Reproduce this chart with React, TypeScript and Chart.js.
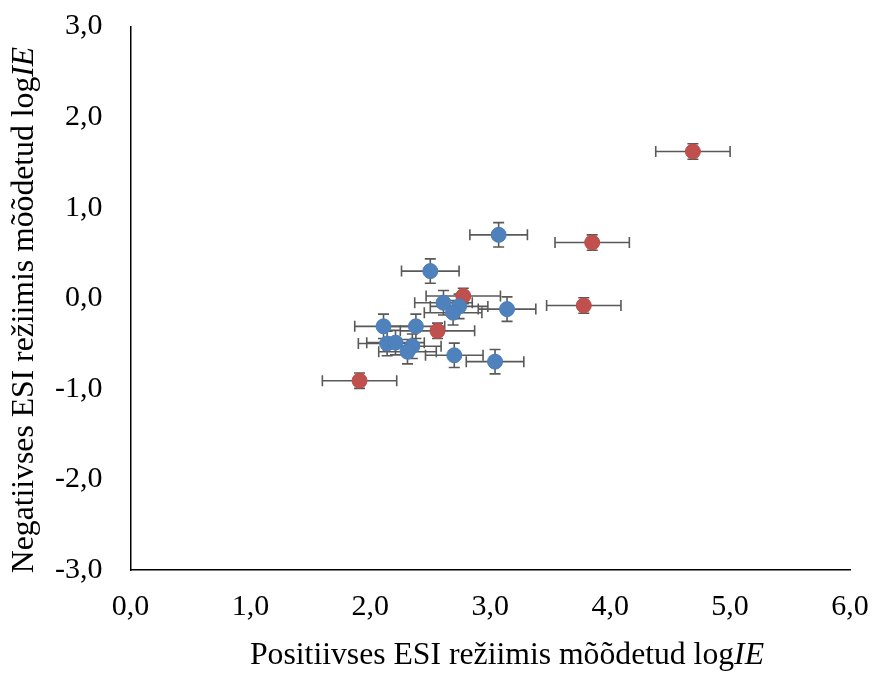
import React, { useEffect, useRef } from "react";
import { Chart, registerables } from "chart.js";

Chart.register(...registerables);

// Blue series
const blueX = [3.07, 2.50, 2.61, 2.74, 2.69, 3.14, 2.11, 2.38, 2.14, 2.21, 2.35, 2.31, 2.70, 3.04];
const blueY = [0.70, 0.30, -0.05, -0.09, -0.16, -0.12, -0.31, -0.31, -0.50, -0.49, -0.53, -0.59, -0.63, -0.70];
const blueXErr = [0.24, 0.24, 0.24, 0.24, 0.24, 0.24, 0.24, 0.24, 0.24, 0.24, 0.24, 0.24, 0.24, 0.24];
const blueYErr = [0.135, 0.135, 0.135, 0.135, 0.135, 0.135, 0.135, 0.135, 0.135, 0.135, 0.135, 0.135, 0.135, 0.135];

// Red series
const redX = [4.69, 3.85, 3.78, 2.775, 2.56, 1.91];
const redY = [1.62, 0.615, -0.08, 0.025, -0.36, -0.91];
const redXErr = [0.31, 0.31, 0.31, 0.31, 0.31, 0.31];
const redYErr = [0.085, 0.085, 0.085, 0.085, 0.085, 0.085];

const xTickValues = [0, 1, 2, 3, 4, 5, 6];
const yTickValues = [-3, -2, -1, 0, 1, 2, 3];

const xTitleMain = "Positiivses ESI režiimis mõõdetud log";
const yTitleMain = "Negatiivses ESI režiimis mõõdetud log";
const titleItalic = "IE";

const fmt = (v: number) => v.toFixed(1).replace(".", ",");

export default function App() {
  const ref = useRef<HTMLCanvasElement | null>(null);

  useEffect(() => {
    if (!ref.current) return;

    const errorBars = {
      id: "errorBars",
      beforeDatasetsDraw(chart: any) {
        const ctx = chart.ctx;
        const xs = chart.scales.x;
        const ys = chart.scales.y;
        const series = [
          { x: blueX, y: blueY, ex: blueXErr, ey: blueYErr },
          { x: redX, y: redY, ex: redXErr, ey: redYErr },
        ];
        const cap = 5.5;
        ctx.save();
        ctx.strokeStyle = "#595959";
        ctx.lineWidth = 1.6;
        series.forEach((s) => {
          s.x.forEach((xv, i) => {
            const yv = s.y[i];
            const px = xs.getPixelForValue(xv);
            const py = ys.getPixelForValue(yv);
            const x1 = xs.getPixelForValue(xv - s.ex[i]);
            const x2 = xs.getPixelForValue(xv + s.ex[i]);
            const y1 = ys.getPixelForValue(yv - s.ey[i]);
            const y2 = ys.getPixelForValue(yv + s.ey[i]);
            ctx.beginPath();
            ctx.moveTo(x1, py);
            ctx.lineTo(x2, py);
            ctx.moveTo(x1, py - cap);
            ctx.lineTo(x1, py + cap);
            ctx.moveTo(x2, py - cap);
            ctx.lineTo(x2, py + cap);
            ctx.moveTo(px, y1);
            ctx.lineTo(px, y2);
            ctx.moveTo(px - cap, y1);
            ctx.lineTo(px + cap, y1);
            ctx.moveTo(px - cap, y2);
            ctx.lineTo(px + cap, y2);
            ctx.stroke();
          });
        });
        ctx.restore();
      },
    };

    const titles = {
      id: "axisTitles",
      afterDraw(chart: any) {
        const ctx = chart.ctx;
        const normal = "31.7px 'Liberation Serif', 'Times New Roman', serif";
        const italic = "italic 31.7px 'Liberation Serif', 'Times New Roman', serif";
        ctx.save();
        ctx.fillStyle = "#000000";
        ctx.textBaseline = "alphabetic";
        ctx.textAlign = "left";
        // X title
        ctx.font = normal;
        const w1 = ctx.measureText(xTitleMain).width;
        ctx.font = italic;
        const w2 = ctx.measureText(titleItalic).width;
        const cx = 507;
        const sx = cx - (w1 + w2) / 2;
        ctx.font = normal;
        ctx.fillText(xTitleMain, sx, 664);
        ctx.font = italic;
        ctx.fillText(titleItalic, sx + w1, 664);
        // Y title
        ctx.font = normal;
        const v1 = ctx.measureText(yTitleMain).width;
        ctx.font = italic;
        const v2 = ctx.measureText(titleItalic).width;
        const cy = 310;
        ctx.translate(33, cy);
        ctx.rotate(-Math.PI / 2);
        const sy = -(v1 + v2) / 2;
        ctx.font = normal;
        ctx.fillText(yTitleMain, sy, 0);
        ctx.font = italic;
        ctx.fillText(titleItalic, sy + v1, 0);
        ctx.restore();
      },
    };

    const tickFont = { family: "'Liberation Serif', 'Times New Roman', serif", size: 30 };

    const chart = new Chart(ref.current, {
      type: "scatter",
      data: {
        datasets: [
          {
            label: "Sinine",
            data: blueX.map((x, i) => ({ x, y: blueY[i] })),
            backgroundColor: "#4F81BD",
            borderColor: "#4A7EBB",
            pointRadius: 7.5,
            pointHoverRadius: 7.5,
          },
          {
            label: "Punane",
            data: redX.map((x, i) => ({ x, y: redY[i] })),
            backgroundColor: "#C0504D",
            borderColor: "#BE4B48",
            pointRadius: 7.5,
            pointHoverRadius: 7.5,
          },
        ],
      },
      options: {
        animation: false,
        responsive: false,
        maintainAspectRatio: false,
        layout: { padding: { top: 26.5, right: 22, left: 0, bottom: 0 } },
        plugins: {
          legend: { display: false },
          tooltip: { enabled: false },
        },
        scales: {
          x: {
            type: "linear",
            min: 0,
            max: 6,
            afterBuildTicks: (s: any) => {
              s.ticks = xTickValues.map((v) => ({ value: v }));
            },
            afterFit: (s: any) => {
              s.height = 104;
              s.paddingLeft = 0;
              s.paddingRight = 0;
              s.paddingTop = 0;
              s.paddingBottom = 0;
            },
            grid: { display: false, drawTicks: false },
            border: { display: true, color: "#000000", width: 1.5 },
            ticks: {
              font: tickFont,
              color: "#000000",
              padding: 19,
              maxRotation: 0,
              callback: (v: any) => fmt(Number(v)),
            },
          },
          y: {
            type: "linear",
            min: -3,
            max: 3,
            afterBuildTicks: (s: any) => {
              s.ticks = yTickValues.map((v) => ({ value: v }));
            },
            afterFit: (s: any) => {
              s.width = 130.5;
              s.paddingLeft = 0;
              s.paddingRight = 0;
              s.paddingTop = 0;
              s.paddingBottom = 0;
            },
            grid: { display: false, drawTicks: false },
            border: { display: true, color: "#000000", width: 1.5 },
            ticks: {
              font: tickFont,
              color: "#000000",
              padding: 28,
              callback: (v: any) => fmt(Number(v)),
            },
          },
        },
      },
      plugins: [errorBars, titles],
    });

    return () => chart.destroy();
  }, []);

  return (
    <div style={{ position: "fixed", left: 0, top: 0, width: 872, height: 674, background: "#ffffff" }}>
      <canvas ref={ref} width={872} height={674} style={{ width: 872, height: 674 }} />
    </div>
  );
}
